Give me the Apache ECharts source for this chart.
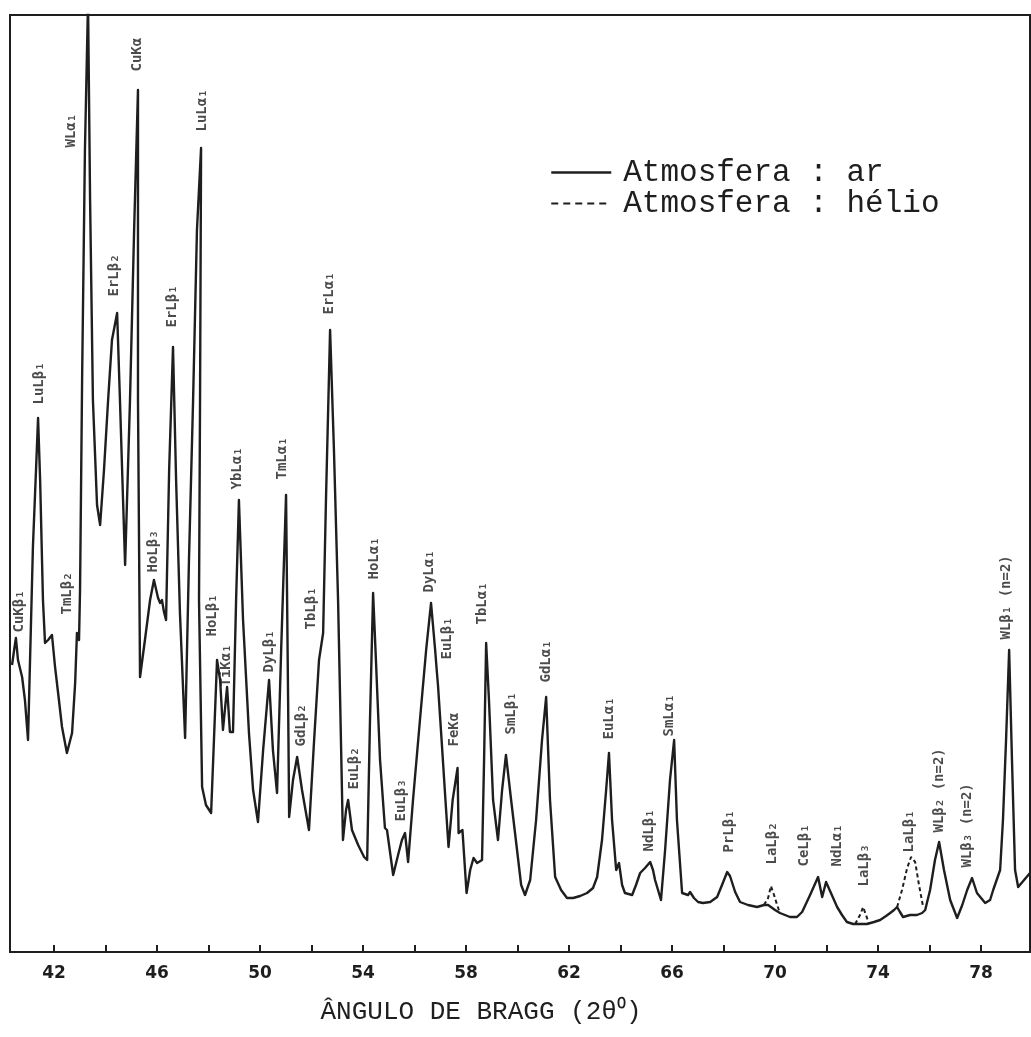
<!DOCTYPE html>
<html>
<head>
<meta charset="utf-8">
<script src="https://cdn.jsdelivr.net/npm/echarts@6/dist/echarts.min.js"></script>
<style>
html,body{margin:0;padding:0;background:#fff;}
#chart{width:1031px;height:1037px;}
</style>
</head>
<body>
<div id="chart"></div>
<script>
// Atmosphere: air (solid line) — Bragg angle 2θ (degrees) and relative intensity
const angleAr = [40.37,40.45,40.52,40.60,40.76,40.87,40.99,41.18,41.30,41.38,41.46,41.57,41.65,41.77,41.92,42.04,42.19,42.31,42.50,42.70,42.82,42.89,42.97,43.01,43.09,43.20,43.32,43.40,43.51,43.67,43.79,43.94,44.10,44.25,44.45,44.56,44.68,44.76,44.95,45.11,45.26,45.26,45.34,45.53,45.73,45.88,46.04,46.12,46.19,46.27,46.35,46.47,46.62,46.74,46.89,47.09,47.24,47.40,47.55,47.71,47.67,47.63,47.75,47.90,48.10,48.21,48.33,48.45,48.56,48.72,48.83,48.95,49.07,49.18,49.34,49.57,49.73,49.92,50.12,50.35,50.50,50.66,50.82,51.01,51.09,51.13,51.28,51.44,51.63,51.90,52.10,52.29,52.45,52.56,52.72,52.87,53.03,53.11,53.22,53.34,53.42,53.57,53.81,54.04,54.16,54.27,54.39,54.50,54.66,54.85,54.93,55.17,55.36,55.51,55.63,55.75,55.94,56.21,56.45,56.64,56.80,56.87,56.91,57.05,57.20,57.32,57.48,57.67,57.71,57.86,58.02,58.16,58.29,58.43,58.62,58.70,58.78,58.89,59.05,59.24,59.40,59.55,59.75,59.98,60.14,60.29,60.49,60.72,60.95,61.11,61.26,61.46,61.69,61.92,62.16,62.43,62.70,62.93,63.09,63.28,63.44,63.55,63.67,63.83,63.94,64.06,64.17,64.45,64.60,64.76,64.95,65.15,65.26,65.34,65.57,65.73,65.92,66.08,66.19,66.39,66.62,66.70,66.85,67.01,67.20,67.48,67.75,67.94,68.14,68.25,68.45,68.64,68.95,69.30,69.57,69.73,70.00,70.19,70.58,70.85,71.05,71.36,71.67,71.83,71.98,72.17,72.41,72.60,72.79,73.03,73.30,73.57,73.84,74.08,74.31,74.47,74.62,74.74,74.85,74.97,75.24,75.51,75.71,75.83,76.02,76.21,76.37,76.56,76.80,77.07,77.27,77.46,77.65,77.84,78.16,78.35,78.47,78.74,78.85,78.97,79.09,79.20,79.32,79.44,79.67,79.90];
const intensityAr = [28.7,30.2,31.4,29.2,27.5,25.2,21.2,40.5,48.2,53.4,47.2,35.2,30.9,31.2,31.7,28.5,25.2,22.5,19.9,21.9,26.9,31.9,31.2,36.2,57.2,80.2,95.0,75.2,55.2,44.7,42.7,48.2,55.2,61.2,63.9,55.2,45.2,38.7,55.2,72.2,86.2,55.2,27.5,31.2,35.2,37.2,35.4,34.9,35.2,34.0,33.2,48.2,60.5,47.2,33.9,21.4,39.2,55.2,72.2,80.4,55.2,35.2,16.5,14.7,13.9,21.2,29.2,27.2,22.2,26.5,22.0,22.0,35.2,45.2,33.2,21.9,16.2,13.0,20.2,27.2,20.2,15.9,30.2,45.7,25.2,13.5,17.2,19.5,16.2,12.2,21.2,29.2,31.9,45.2,62.2,50.2,35.2,25.2,11.2,14.2,15.2,12.2,10.7,9.5,9.2,23.2,35.9,29.2,19.2,12.4,12.2,7.7,9.7,11.2,11.9,9.0,15.2,23.2,30.2,34.9,30.2,27.9,26.7,21.2,15.2,10.5,15.2,18.4,11.9,12.2,5.9,8.2,9.4,8.9,9.2,19.2,30.9,25.2,15.2,11.2,16.2,19.7,15.2,10.2,6.7,5.7,7.2,13.2,21.2,25.5,15.2,7.5,6.2,5.4,5.4,5.6,5.9,6.4,7.5,11.2,16.2,19.9,13.2,8.2,8.9,6.7,5.9,5.7,6.7,7.9,8.4,9.0,8.2,7.2,5.2,10.2,17.2,21.2,13.2,5.9,5.7,6.0,5.4,5.0,4.9,5.0,5.5,6.7,8.0,7.6,6.0,5.0,4.7,4.5,4.7,4.7,4.2,3.9,3.5,3.5,4.0,5.7,7.5,5.5,7.0,5.9,4.5,3.7,3.0,2.8,2.8,2.8,3.0,3.2,3.6,3.9,4.2,4.5,4.0,3.5,3.7,3.7,3.9,4.2,6.2,9.2,11.0,8.2,5.2,3.4,4.7,6.2,7.4,5.9,4.9,5.2,6.2,8.2,13.2,21.2,30.2,19.2,8.2,6.5,7.2,7.9];

// Atmosphere: helium (dashed) — only where it departs from the air curve
const angleHe = [69.57,69.73,69.84,69.96,70.08,70.19,null,73.11,73.30,73.42,73.53,73.65,null,74.74,74.93,75.13,75.28,75.44,75.59,75.75];
const intensityHe = [4.7,5.4,6.6,5.7,4.7,3.9,null,2.8,3.7,4.5,3.7,2.8,null,4.5,6.2,8.4,9.5,9.0,6.7,4.5];

// Peak identifications (label base position)
const peakNames = ['CuKβ₁','LuLβ₁','TmLβ₂','WLα₁','ErLβ₂','CuKα','HoLβ₃','ErLβ₁','LuLα₁','HoLβ₁','TiKα₁','YbLα₁','DyLβ₁','TmLα₁','GdLβ₂','TbLβ₁','ErLα₁','EuLβ₂','HoLα₁','EuLβ₃','DyLα₁','EuLβ₁','FeKα','TbLα₁','SmLβ₁','GdLα₁','EuLα₁','NdLβ₁','SmLα₁','PrLβ₁','LaLβ₂','CeLβ₁','NdLα₁','LaLβ₃','LaLβ₁','WLβ₂ (n=2)','WLβ₃ (n=2)','WLβ₁ (n=2)'];
const peakAngle = [40.68,41.46,42.54,42.70,44.37,45.26,45.88,46.62,47.79,48.17,48.72,49.15,50.39,50.89,51.63,52.02,52.72,53.69,54.47,55.51,56.60,57.30,57.57,58.66,59.79,61.15,63.59,65.15,65.92,68.25,69.92,71.17,72.45,73.49,75.24,76.41,77.50,79.01];
const peakHeight = [31.9,54.7,33.7,80.4,65.5,88.0,37.9,62.4,82.0,31.5,26.5,46.2,27.9,47.2,20.5,32.2,63.7,16.2,37.2,13.0,35.9,29.2,20.5,32.7,21.7,26.9,21.2,10.0,21.5,9.9,8.7,8.5,8.5,6.5,9.9,11.9,8.4,31.2];

// Axis ticks and labels
const tickValues = [42,44,46,48,50,52,54,56,58,60,62,64,66,68,70,72,74,76,78];
const labelValues = [42,46,50,54,58,62,66,70,74,78];

const ink = '#1e1e1e';
const arData = angleAr.map((a, i) => [a, intensityAr[i]]);
const heData = angleHe.map((a, i) => a === null ? null : [a, intensityHe[i]]);
const labelData = peakNames.map((n, i) => ({ name: n, value: [peakAngle[i], peakHeight[i]] }));

const hidden = { color: 'rgba(0,0,0,0)', borderColor: 'rgba(0,0,0,0)', borderWidth: 0, opacity: 0 };

const chart = echarts.init(document.getElementById('chart'), null, { renderer: 'canvas' });
chart.setOption({
  backgroundColor: '#ffffff',
  animation: false,
  grid: {
    left: 10, right: 1, top: 15, bottom: 85,
    show: true, borderColor: ink, borderWidth: 2, backgroundColor: 'transparent'
  },
  legend: {
    data: [
      { name: 'Atmosfera : ar', lineStyle: { type: 'solid', width: 2.5, color: ink, opacity: 1 }, itemStyle: hidden },
      { name: 'Atmosfera : hélio', lineStyle: { type: [7, 5], width: 2, color: ink, opacity: 1 }, itemStyle: hidden }
    ],
    orient: 'vertical',
    left: 550, top: 157, padding: 0,
    itemWidth: 60, itemHeight: 14, itemGap: 0,
    textStyle: { fontFamily: 'Liberation Mono', fontSize: 31, color: ink, lineHeight: 31, padding: [0, 0, 0, 7] }
  },
  xAxis: {
    type: 'value',
    min: 40.29, max: 79.9,
    name: 'ÂNGULO DE BRAGG (2θ⁰)',
    nameLocation: 'middle',
    nameGap: 47,
    nameTextStyle: { fontFamily: 'Liberation Mono', fontSize: 26, color: ink, padding: [0, 78, 0, 0] },
    axisLine: { show: true, lineStyle: { color: ink, width: 2 } },
    axisTick: { show: true, inside: true, length: 7, customValues: tickValues, lineStyle: { color: ink, width: 2 } },
    axisLabel: { show: true, customValues: labelValues, margin: 13, fontFamily: 'DejaVu Sans', fontWeight: 'bold', fontSize: 17, color: ink },
    splitLine: { show: false }
  },
  yAxis: {
    type: 'value', min: 0, max: 93.7, show: false, splitLine: { show: false }
  },
  series: [
    {
      name: 'Atmosfera : ar', type: 'line', data: arData,
      symbol: 'none', showSymbol: false, smooth: false, z: 3,
      lineStyle: { color: ink, width: 2.4, join: 'round' },
      itemStyle: { color: ink }
    },
    {
      name: 'Atmosfera : hélio', type: 'line', data: heData,
      symbol: 'none', showSymbol: false, connectNulls: false, z: 2,
      lineStyle: { color: ink, width: 2, type: [4, 3] },
      itemStyle: { color: ink }
    },
    {
      name: 'labels', type: 'scatter', data: labelData,
      symbolSize: 1, itemStyle: { color: 'rgba(0,0,0,0)' }, silent: true, z: 4,
      label: {
        show: true, formatter: p => p.name, rotate: 90,
        position: [0, 0], align: 'left', verticalAlign: 'middle',
        fontFamily: 'DejaVu Sans Mono', fontWeight: 'bold', fontSize: 14, color: ink
      }
    }
  ]
});
</script>
</body>
</html>
